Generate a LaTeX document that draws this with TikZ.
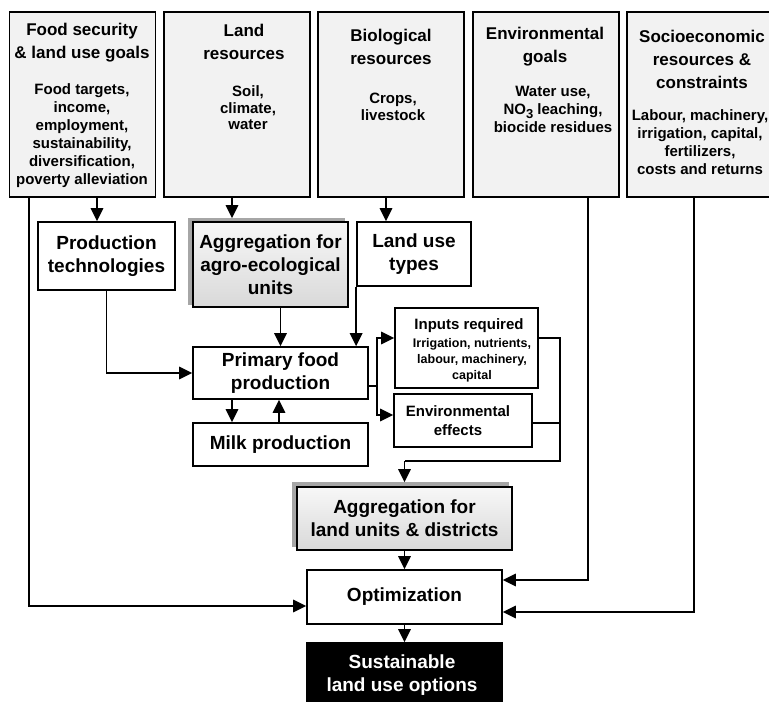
\documentclass[tikz,border=0pt]{standalone}
\usepackage{fontspec}
\setmainfont{Liberation Sans}
\usetikzlibrary{arrows.meta,calc}
\begin{document}
\begin{tikzpicture}[x=1pt,y=-1pt,
  line width=1.7pt,
  arr/.style={-{Triangle[length=13pt,width=12.5pt]}},
  topbox/.style={draw, fill=gray!10, minimum width=146pt, minimum height=185pt, inner sep=0pt},
  box/.style={draw, fill=white, inner sep=0pt},
  shbox/.style={draw, inner sep=0pt, top color=gray!6, bottom color=gray!30},
  shadowbox/.style={fill=gray!70, draw=gray!70, inner sep=0pt},
  ttl/.style={font=\fontsize{17}{23}\selectfont\bfseries, align=center, inner sep=0pt},
  bdy/.style={font=\fontsize{15}{18}\selectfont\bfseries, align=center, inner sep=0pt},
  big/.style={font=\fontsize{19}{23}\selectfont\bfseries, align=center, inner sep=0pt},
  sml/.style={font=\fontsize{12.5}{16}\selectfont\bfseries, align=center, inner sep=0pt},
]
\useasboundingbox (0,0) rectangle (769,702);
% top boxes
\node[topbox] (b1) at (82.5,104.5) {};
\node[topbox] (b2) at (237,104.5) {};
\node[topbox] (b3) at (391,104.5) {};
\node[topbox] (b4) at (546,104.5) {};
\node[topbox, minimum width=150pt] (b5) at (702,104.5) {};
\node[ttl] (t1) at (82,43) {Food security\\\& land use goals};
\node[bdy] (d1) at (82,135.5) {Food targets,\\income,\\employment,\\sustainability,\\diversification,\\poverty alleviation};
\node[ttl] (t2) at (244,42) {Land\\resources};
\node[bdy, font=\fontsize{15}{16.5}\selectfont\bfseries] (d2) at (248,108) {Soil,\\climate,\\water};
\node[ttl] (t3) at (391,46.5) {Biological\\resources};
\node[bdy, font=\fontsize{15}{17}\selectfont\bfseries] (d3) at (393,106.5) {Crops,\\livestock};
\node[ttl] (t4) at (545,46.5) {Environmental\\goals};
\node[bdy] (d4) at (553,109) {Water use,\\NO\raisebox{-4pt}{\fontsize{13}{13}\selectfont 3} leaching,\\biocide residues};
\node[ttl] (t5) at (702,59.5) {Socioeconomic\\resources \&\\constraints};
\node[bdy] (d5) at (700,142.5) {Labour, machinery,\\irrigation, capital,\\fertilizers,\\costs and returns};
% second row
\node[box, minimum width=137pt, minimum height=68pt, big] (prodT) at (106.5,256) {Production\\technologies};
\node[shadowbox, minimum width=155pt, minimum height=85pt] (aggUs) at (266.5,261.5) {};
\node[shbox, minimum width=155pt, minimum height=85pt, big] (aggU) at (270.5,264.5) {Aggregation for\\agro-ecological\\units};
\node[box, minimum width=114pt, minimum height=64pt, big] (landU) at (414,254) {Land use\\types};
% middle
\node[box, minimum width=175pt, minimum height=52pt, big] (prim) at (280.5,373) {Primary food\\production};
\node[box, minimum width=175pt, minimum height=43pt, big] (milk) at (280.5,444.5) {Milk production};
\node[box, minimum width=143pt, minimum height=80pt] (inp) at (466.5,348) {};
\node[bdy] (inpT) at (469,326) {Inputs required};
\node[sml] (inpD) at (472,360) {Irrigation, nutrients,\\labour, machinery,\\capital};
\node[box, minimum width=138pt, minimum height=53pt] (env) at (463,420.5) {};
\node[bdy, font=\fontsize{15}{19}\selectfont\bfseries] (envT) at (458,420.5) {Environmental\\effects};
% lower
\node[shadowbox, minimum width=215pt, minimum height=63pt] (aggDs) at (400.5,514.5) {};
\node[shbox, minimum width=215pt, minimum height=63pt, big] (aggD) at (404.5,518.5) {Aggregation for\\land units \& districts};
\node[box, minimum width=195pt, minimum height=54pt, big] (opt) at (404.5,597) {Optimization};
\node[draw, fill=black, inner sep=0pt, minimum width=195pt, minimum height=64pt] (sus) at (404.5,675) {};
\node[big, text=white] (susT) at (402,675.5) {Sustainable\\land use options};
% connectors
\coordinate (a1) at ([xshift=14.5pt]b1.south);
\draw[arr] (a1) -- (a1 |- prodT.north);
\coordinate (a2) at ([xshift=-5pt]b2.south);
\draw[arr] (a2) -- (a2 |- aggUs.north);
\coordinate (a3) at ([xshift=-5pt]b3.south);
\draw[arr] (a3) -- (a3 |- landU.north);
\draw[arr] (prodT.south) |- (prim.west);
\draw[arr] (prim.north |- aggU.south) -- (prim.north);
\draw[arr] (landU.south west) -- (landU.south west |- prim.north);
\coordinate (m1) at ([xshift=-48.5pt]prim.south);
\draw[arr] (m1) -- (m1 |- milk.north);
\coordinate (m2) at ([xshift=-1.5pt]milk.north);
\draw[arr] (m2) -- (m2 |- prim.south);
\coordinate (pe) at ([yshift=-13pt]prim.east);
\coordinate (br) at ([xshift=8pt]pe);
\draw (pe) -- (br);
\draw[arr] (br) |- ([yshift=10pt]inp.west);
\draw[arr] (br) |- ([yshift=5.5pt]env.west);
\coordinate (ie) at ([yshift=10pt]inp.east);
\coordinate (ee) at ([yshift=-2.5pt]env.east);
\coordinate (vr) at ([xshift=21pt]ie);
\coordinate (j) at ([yshift=25pt]aggD.north);
\draw (ie) -- (vr) |- (j);
\draw (ee) -- (ee -| vr);
\draw[arr] (j) -- (j |- aggDs.north);
\draw[arr] (aggD.south) -- (opt.north);
\draw[arr] (opt.south) -- (sus.north);
\coordinate (l1) at ([xshift=-53.5pt]b1.south);
\draw[arr] (l1) |- ([yshift=-9pt]opt.west);
\coordinate (l4) at ([xshift=42pt]b4.south);
\draw[arr] (l4) |- ([yshift=17pt]opt.east);
\coordinate (l5) at ([xshift=-8pt]b5.south);
\draw[arr] (l5) |- ([yshift=-15pt]opt.east);
\end{tikzpicture}
\end{document}
